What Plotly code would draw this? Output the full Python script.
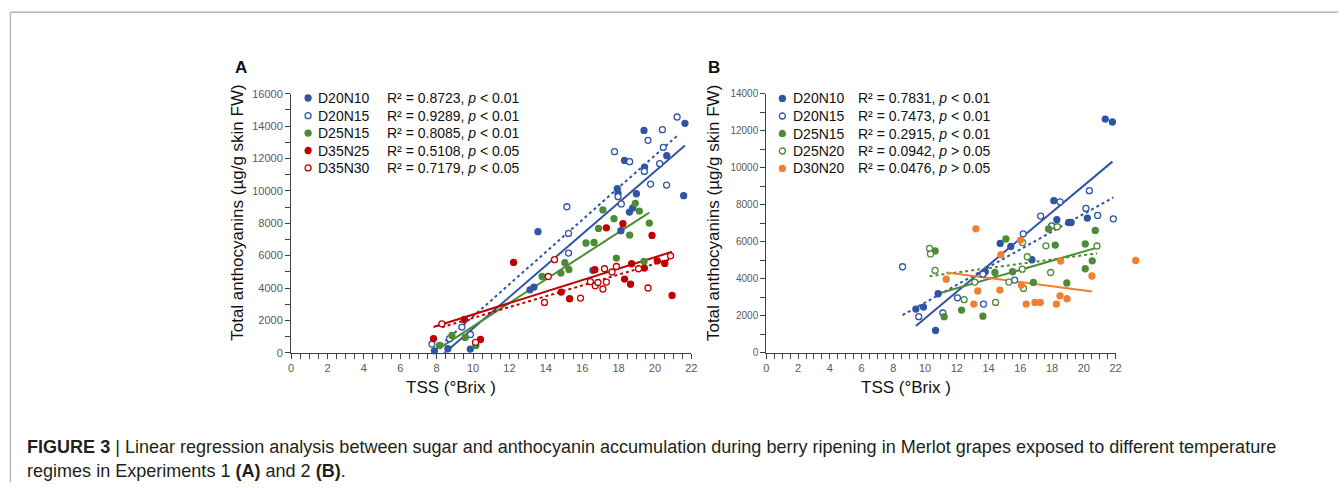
import numpy as np
import plotly.graph_objects as go

W, H = 1344, 488
FONT = "Arial, Liberation Sans, sans-serif"

# ---- Experiment 1 (panel A) : TSS (°Brix) vs total anthocyanins
a_names = ["D20N10", "D20N15", "D25N15", "D35N25", "D35N30"]
a_stats = ["R² = 0.8723, <i>p</i> < 0.01", "R² = 0.9289, <i>p</i> < 0.01", "R² = 0.8085, <i>p</i> < 0.01",
           "R² = 0.5108, <i>p</i> < 0.05", "R² = 0.7179, <i>p</i> < 0.05"]
a_d20n10_x = [7.88, 8.62, 9.85, 13.13, 13.35, 13.57, 16.59, 17.93, 17.97, 18.13, 18.33, 18.60, 18.78, 18.98, 19.40, 19.43, 20.65, 21.58, 21.65]
a_d20n10_y = [120, 250, 230, 3890, 4060, 7480, 5090, 10130, 9840, 7540, 11880, 8690, 8940, 9820, 13730, 11470, 12170, 9700, 14170]
a_d20n15_x = [7.74, 8.71, 9.39, 9.86, 15.16, 15.25, 15.25, 17.78, 17.97, 18.15, 18.61, 19.42, 19.62, 19.76, 20.26, 20.41, 20.46, 20.64, 21.22]
a_d20n15_y = [540, 870, 1590, 1130, 9020, 7370, 6160, 12420, 9640, 9190, 11800, 11200, 13120, 10420, 11680, 13780, 12680, 10360, 14560]
a_d25n15_x = [8.16, 8.84, 9.57, 10.16, 13.80, 14.83, 15.05, 15.27, 16.21, 16.65, 16.90, 17.14, 17.75, 17.88, 18.61, 18.92, 19.14, 19.40, 19.69]
a_d25n15_y = [450, 1070, 950, 450, 4710, 4920, 5560, 5150, 6780, 6810, 7680, 8820, 8280, 5850, 7270, 9230, 8750, 5640, 8010]
a_d35n25_x = [7.83, 9.53, 10.41, 12.23, 14.85, 15.31, 16.70, 17.33, 18.24, 18.33, 18.66, 18.72, 19.42, 19.84, 20.13, 20.54, 20.94]
a_d35n25_y = [880, 2060, 820, 5580, 3750, 3340, 5130, 7720, 7970, 4550, 4240, 5500, 5230, 7250, 5680, 5520, 3540]
a_d35n30_x = [8.29, 10.14, 13.93, 14.14, 14.48, 15.91, 16.45, 16.72, 16.87, 17.14, 17.23, 17.33, 17.64, 17.88, 19.10, 19.62, 20.86]
a_d35n30_y = [1790, 640, 3110, 4710, 5750, 3380, 4390, 4140, 4340, 3940, 5190, 4370, 4990, 5330, 5190, 4000, 5990]

# ---- Experiment 2 (panel B)
b_names = ["D20N10", "D20N15", "D25N15", "D25N20", "D30N20"]
b_stats = ["R² = 0.7831, <i>p</i> < 0.01", "R² = 0.7473, <i>p</i> < 0.01", "R² = 0.2915, <i>p</i> < 0.01",
           "R² = 0.0942, <i>p</i> > 0.05", "R² = 0.0476, <i>p</i> > 0.05"]
b_d20n10_x = [9.42, 9.90, 10.66, 10.82, 13.79, 14.73, 15.40, 16.73, 18.11, 18.30, 19.05, 19.20, 20.22, 21.35, 21.80]
b_d20n10_y = [2360, 2470, 1210, 3190, 4380, 5910, 5750, 5030, 8220, 7190, 7040, 7040, 7280, 12630, 12470]
b_d20n15_x = [8.58, 9.60, 11.12, 12.04, 13.64, 13.68, 15.64, 16.18, 17.28, 17.97, 18.50, 20.13, 20.35, 20.87, 21.86]
b_d20n15_y = [4650, 1950, 2150, 2970, 4250, 2630, 3930, 6430, 7390, 6860, 8160, 7800, 8760, 7420, 7240]
b_d25n15_x = [10.63, 11.20, 12.30, 13.64, 14.40, 15.09, 15.51, 16.82, 17.78, 18.20, 18.93, 20.09, 20.09, 20.53, 20.72]
b_d25n15_y = [5500, 1950, 2310, 1980, 4340, 6150, 4380, 3800, 6690, 5820, 3770, 5880, 4540, 4970, 6610]
b_d25n20_x = [10.28, 10.34, 10.63, 12.46, 13.13, 14.44, 15.28, 16.12, 16.14, 16.20, 16.44, 17.61, 17.91, 18.33, 20.83]
b_d25n20_y = [5640, 5340, 4450, 2870, 3820, 2720, 3820, 4520, 5960, 3480, 5190, 5780, 4340, 6810, 5770]
b_d30n20_x = [11.33, 13.07, 13.20, 13.32, 14.71, 14.77, 16.01, 16.06, 16.37, 16.92, 17.26, 18.27, 18.50, 18.54, 18.94, 20.51, 23.27]
b_d30n20_y = [3980, 2630, 6700, 3340, 3390, 5300, 6090, 3660, 2630, 2720, 2720, 2630, 3080, 4960, 2920, 4150, 4990]

BLUE, GREEN, RED, ORANGE = "#2F55A4", "#4E8B34", "#C00000", "#F07F2E"

a_series = [(a_d20n10_x, a_d20n10_y, BLUE, True), (a_d20n15_x, a_d20n15_y, BLUE, False),
            (a_d25n15_x, a_d25n15_y, GREEN, True), (a_d35n25_x, a_d35n25_y, RED, True),
            (a_d35n30_x, a_d35n30_y, RED, False)]
b_series = [(b_d20n10_x, b_d20n10_y, BLUE, True), (b_d20n15_x, b_d20n15_y, BLUE, False),
            (b_d25n15_x, b_d25n15_y, GREEN, True), (b_d25n20_x, b_d25n20_y, GREEN, False),
            (b_d30n20_x, b_d30n20_y, ORANGE, True)]

fig = go.Figure()


def add_panel(series, xa, ya, xm):
    for x, y, col, filled in series:
        x = np.array(x); y = np.array(y)
        # linear trendline over the data inside the axis range
        m = x <= 22
        k, b = np.polyfit(x[m], y[m], 1)
        xf = np.array([x[m].min(), x[m].max()])
        fig.add_trace(go.Scatter(x=xf, y=k * xf + b, mode="lines", xaxis=xa, yaxis=ya,
                                 line=dict(color=col, width=2, dash="solid" if filled else "dot"),
                                 showlegend=False, hoverinfo="skip"))
    for x, y, col, filled in series:
        # markers go on a hidden, wider x axis with the same scale so points past 22 still show
        fig.add_trace(go.Scatter(x=x, y=y, mode="markers", xaxis=xm, yaxis=ya, cliponaxis=False,
                                 marker=dict(size=6, color=col if filled else "white",
                                             line=dict(color=col, width=1.3)),
                                 showlegend=False))


add_panel(a_series, "x", "y", "x3")
add_panel(b_series, "x2", "y2", "x4")

# pixel positions measured on the target -> paper coords
# (small correction for the slight shrink seen in the rendered screenshot)
SX, OX, SY, OY = 0.9927, 2.1, 0.975, 6.35


def px2x(p):
    return (p - OX) / SX / W


def px2y(p):
    return 1 - (p - OY) / SY / H


ydom = [px2y(353), px2y(94)]
axis_common = dict(showline=True, linecolor="#404040", linewidth=1.2, ticks="outside", ticklen=5,
                   tickcolor="#404040", tickwidth=1, showgrid=False, zeroline=False,
                   tickfont=dict(family=FONT, size=11, color="#595959"))
minor_x = dict(dtick=0.5, ticks="outside", ticklen=5, tickcolor="#404040")
minor_y = dict(dtick=1000, ticks="outside", ticklen=5, tickcolor="#404040")
ext = 40  # px of extra room to the right for the marker axes
fig.update_layout(
    width=W, height=H, autosize=False, margin=dict(l=0, r=0, t=0, b=0),
    paper_bgcolor="white", plot_bgcolor="rgba(0,0,0,0)",
    xaxis=dict(domain=[px2x(290), px2x(690)], range=[0, 22], dtick=2, anchor="y", minor=minor_x, **axis_common),
    yaxis=dict(domain=ydom, range=[0, 16000], dtick=2000, anchor="x", tickformat="d", minor=minor_y, **axis_common),
    xaxis2=dict(domain=[px2x(765), px2x(1114)], range=[0, 22], dtick=2, anchor="y2", minor=minor_x, **axis_common),
    yaxis2=dict(domain=ydom, range=[0, 14000], dtick=2000, anchor="x2", tickformat="d", minor=minor_y,
                **{**axis_common, "tickfont": dict(family=FONT, size=10, color="#595959")}),
    xaxis3=dict(domain=[px2x(290), px2x(690 + ext)], range=[0, 22 * (400 + ext) / 400], anchor="y",
                visible=False),
    xaxis4=dict(domain=[px2x(765), px2x(1114 + ext)], range=[0, 22 * (349 + ext) / 349], anchor="y2",
                visible=False),
)

ann = []
shapes = []


def legend(names, stats, series, mx, tx, sx, rows):
    for name, st, (x, y, col, filled), ry in zip(names, stats, series, rows):
        r = 3
        shapes.append(dict(type="circle", xref="paper", yref="paper",
                           x0=px2x(mx - r), x1=px2x(mx + r), y0=px2y(ry + r), y1=px2y(ry - r),
                           fillcolor=col if filled else "white", line=dict(color=col, width=1.3)))
        ann.append(dict(x=px2x(tx), y=px2y(ry), text=name, xanchor="left", yanchor="middle"))
        ann.append(dict(x=px2x(sx), y=px2y(ry), text=st, xanchor="left", yanchor="middle"))


legend(a_names, a_stats, a_series, 307, 315, 384, [98.3, 116, 133.4, 150.8, 168.2])
legend(b_names, b_stats, b_series, 781, 789.5, 855, [98.7, 116.3, 133.8, 151.3, 168.7])
for a in ann:
    a.update(xref="paper", yref="paper", showarrow=False, font=dict(family=FONT, size=14, color="#111111"))

titles = [
    dict(x=px2x(237), y=px2y(213), text="Total anthocyanins (µg/g skin FW)", textangle=-90),
    dict(x=px2x(712), y=px2y(213), text="Total anthocyanins (µg/g skin FW)", textangle=-90),
    dict(x=px2x(450), y=px2y(388), text="TSS (°Brix )"),
    dict(x=px2x(905), y=px2y(388), text="TSS (°Brix )"),
]
for t in titles:
    t.update(xref="paper", yref="paper", showarrow=False, xanchor="center", yanchor="middle",
             font=dict(family=FONT, size=17, color="#111111"))
    ann.append(t)

for lab, lx in [("A", 232), ("B", 705)]:
    ann.append(dict(x=px2x(lx), y=px2y(68), text="<b>" + lab + "</b>", xref="paper", yref="paper",
                    showarrow=False, xanchor="left", yanchor="middle",
                    font=dict(family=FONT, size=17, color="#111111")))

caption = ["<b>FIGURE 3</b> | Linear regression analysis between sugar and anthocyanin accumulation during "
           "berry ripening in Merlot grapes exposed to different temperature",
           "regimes in Experiments 1 <b>(A)</b> and 2 <b>(B)</b>."]
for line, cy in zip(caption, [447, 471]):
    ann.append(dict(x=px2x(24), y=px2y(cy), text=line, xref="paper", yref="paper", showarrow=False,
                    xanchor="left", yanchor="middle", font=dict(family=FONT, size=18.05, color="#231F20")))

# thin page frame (top and left edges)
shapes.append(dict(type="line", xref="paper", yref="paper", x0=px2x(9.5), x1=1, y0=px2y(12.5), y1=px2y(12.5),
                   line=dict(color="#B8B8B8", width=1.5)))
shapes.append(dict(type="line", xref="paper", yref="paper", x0=px2x(9.5), x1=px2x(9.5), y0=0, y1=px2y(12.5),
                   line=dict(color="#B8B8B8", width=1.5)))

fig.update_layout(annotations=ann, shapes=shapes)
fig.write_html("out.html", config={"responsive": False, "displayModeBar": False},
               post_script="document.body.style.margin='0';document.body.style.overflow='hidden';")
